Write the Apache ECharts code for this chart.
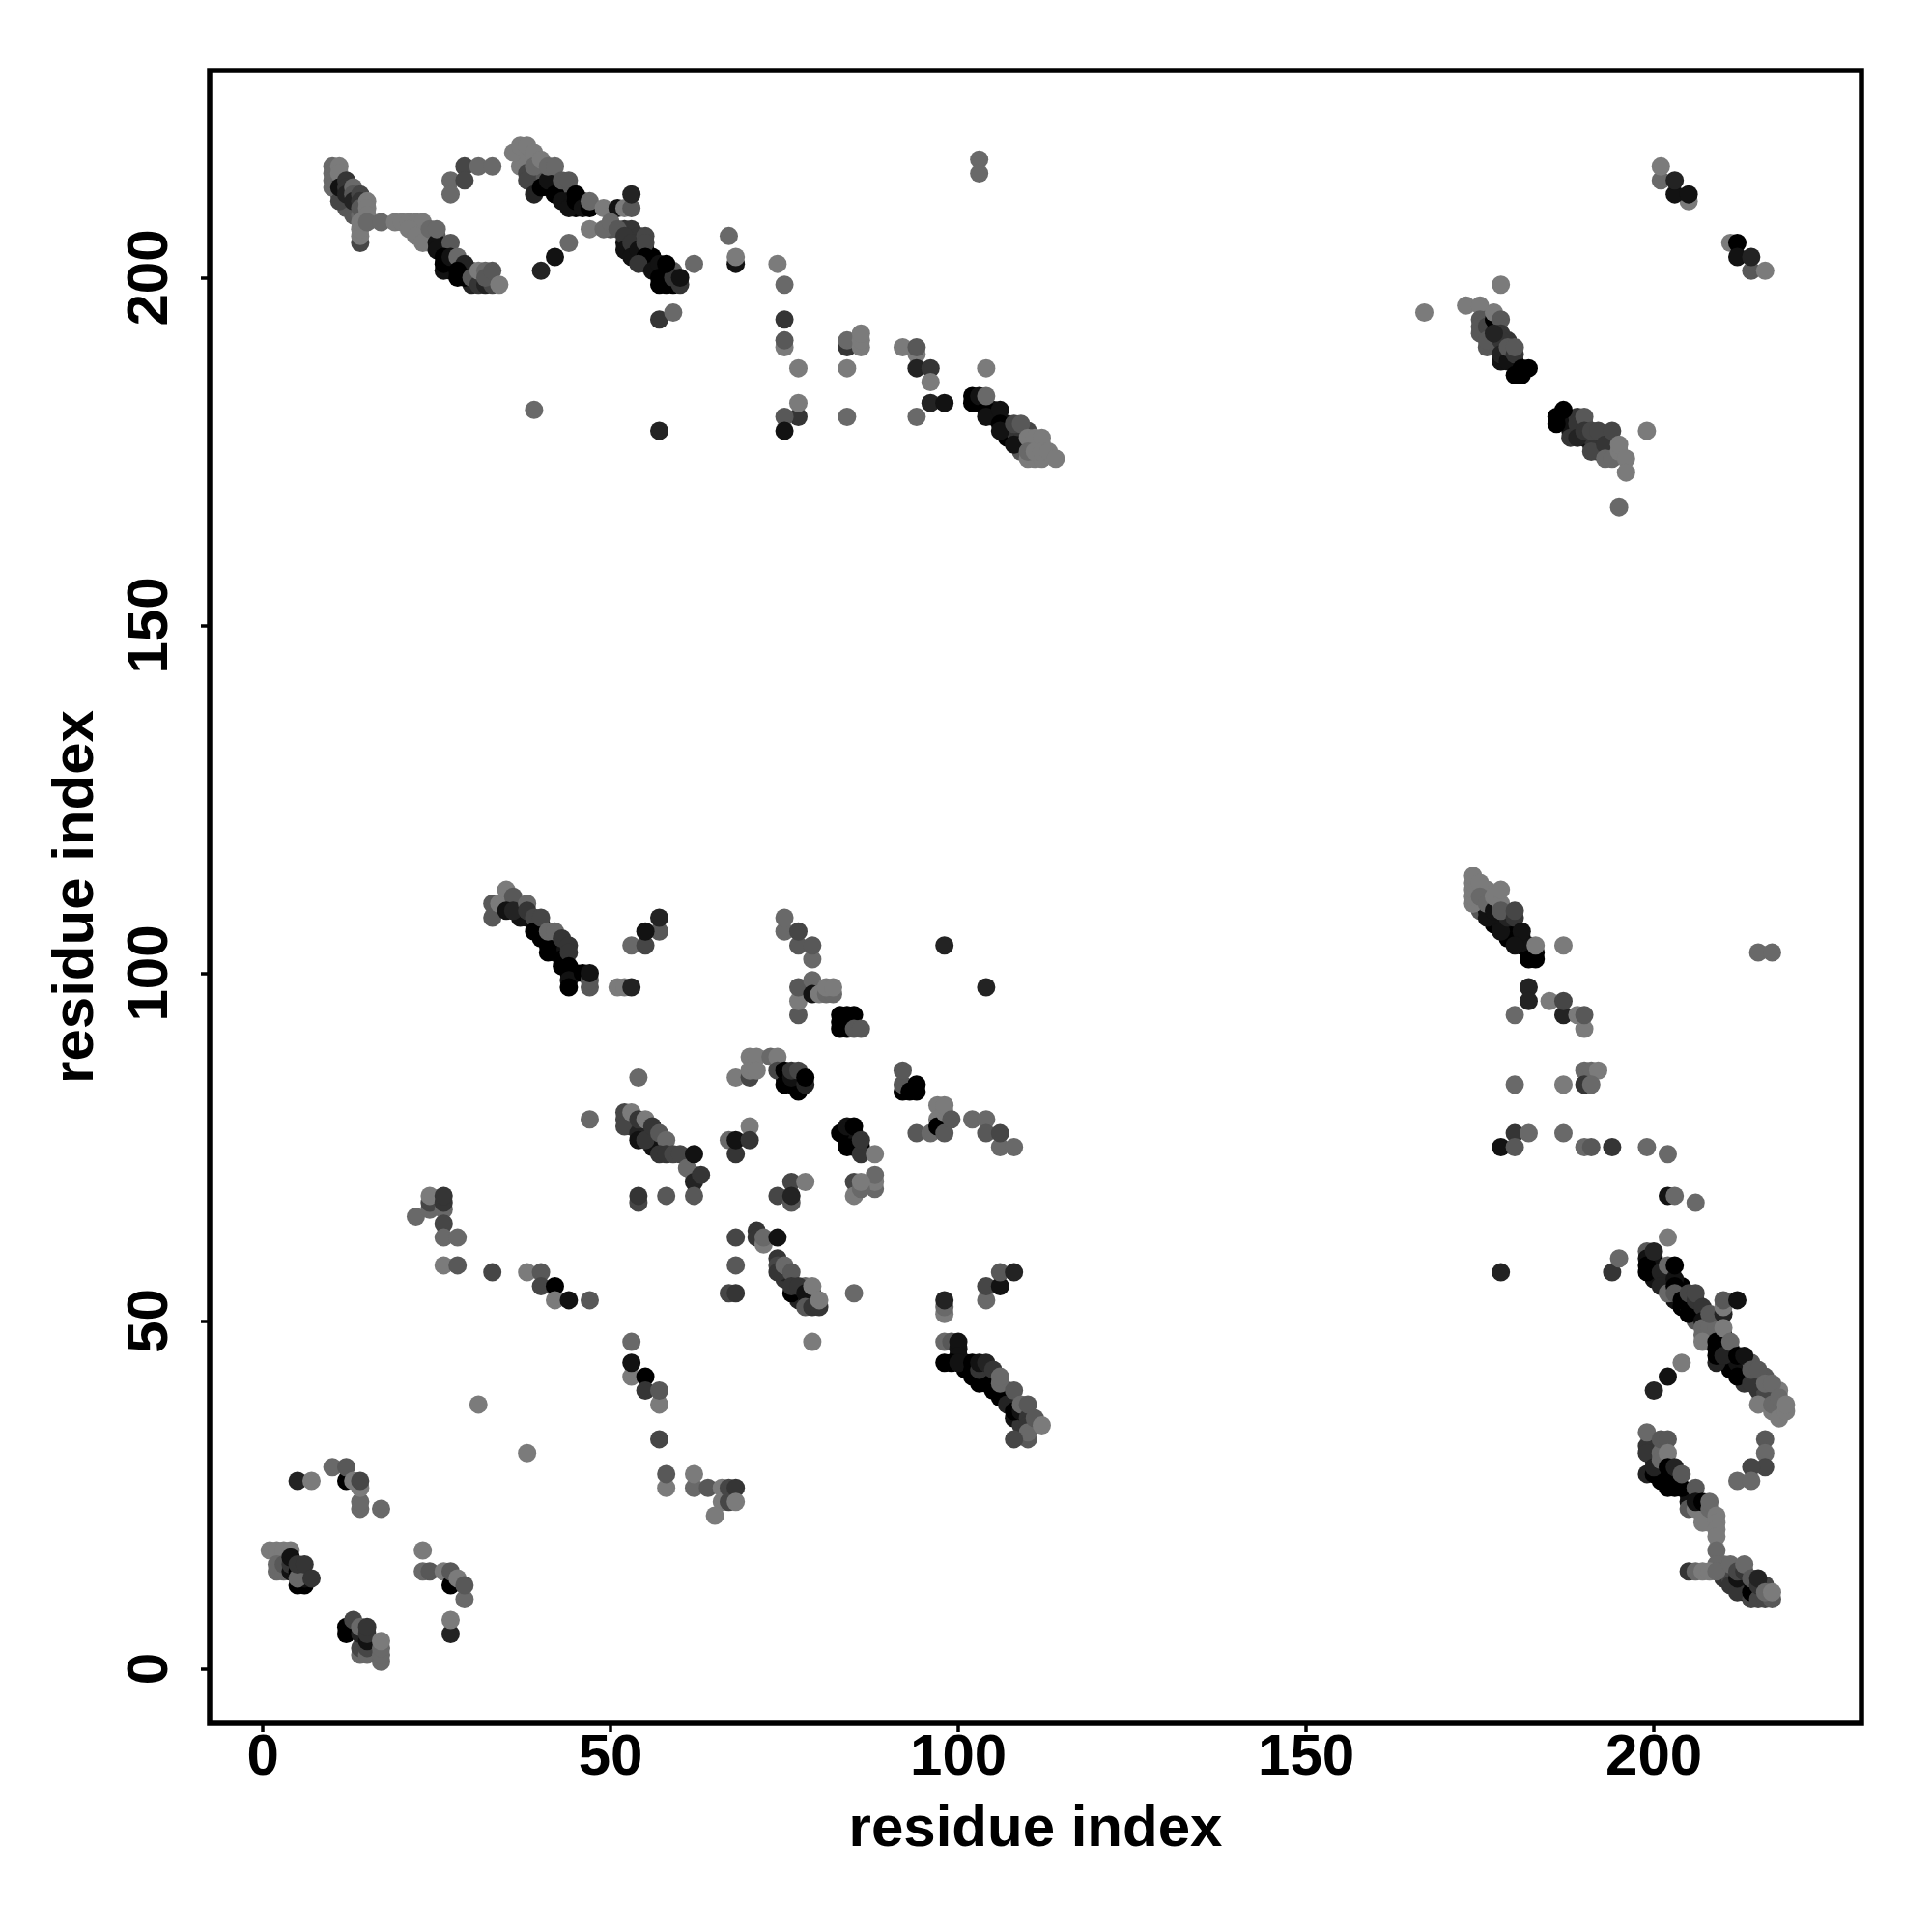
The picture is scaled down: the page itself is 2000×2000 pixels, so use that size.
<!DOCTYPE html>
<html><head><meta charset="utf-8">
<script src="https://cdn.jsdelivr.net/npm/echarts@6/dist/echarts.min.js"></script>
<style>html,body{margin:0;padding:0;background:#fff}#c{width:2000px;height:2000px}</style>
</head><body><div id="c"></div>
<script>
// each contact: [residue x, residue y, darkness level 0 (black) .. 7 (mid grey)]
const bandCores=[[11,214,5],[11,212,3],[12,210,5],[13,209,5],[14,209,6],[24,205,5],[25,206,5],[26,204,2],[27,202,0],[27,201,0],[26,201,1],[29,201,1],[30,201,3],[30,199,2],[31,200,5],
[37,216,7],[38,217,7],[39,217,7],[40,216,6],[40,215,5],[41,215,5],[41,213,1],[42,214,1],[42,213,0],[43,212,1],[43,213,3],[44,212,1],[44,213,5],[44,211,1],[45,210,0],[46,211,1],[42,212,0],
[50,207,5],[52,207,3],[53,207,3],[54,206,3],[54,205,3],[55,204,1],[56,203,0],[52,205,1],[56,202,0],[57,201,0],[58,201,1],[55,202,3],[58,200,0],[59,201,5],
[176,192,3],[177,193,3],[177,191,2],[178,190,2],[179,189,1],[176,190,5],[179,191,3],[178,188,1],[180,188,1],
[188,178,1],[188,179,1],[189,178,2],[190,177,1],[191,176,1],[192,176,3],[192,175,2],[193,175,3],[191,177,3],[192,177,3],[190,179,5],[189,180,3],[188,177,3],[194,176,1],[193,177,3],[194,175,5],
[37,109,3],[38,108,1],[40,107,1],[40,105,0],[42,105,0],[42,104,0],[42,103,1],[43,103,1],[43,101,0],[45,100,0],
[175,112,7],[175,110,7],[176,112,7],[176,111,7],[175,109,5],[176,109,1],[177,108,0],[177,107,0],[178,108,0],[178,107,1],[179,107,1],[179,106,0],[179,105,0],[180,106,0],[180,105,0],[181,105,0],[181,104,0],[182,103,0],[182,104,1],
[103,182,0],[105,180,0],[105,181,1],[107,179,1],[107,178,0],[107,177,0],[109,177,1],[108,178,3],[109,176,2],[109,175,5],[110,176,5],[111,176,6],[112,176,7],[110,178,4],
[101,44,0],[101,43,0],[102,42,0],[103,42,0],[104,42,1],[104,43,1],[105,42,1],[105,40,0],[107,39,0],[107,40,1],[108,38,1],[108,36,1],[109,36,1],[109,35,3],
[200,59,0],[200,58,1],[200,57,0],[200,56,1],[201,56,1],[202,56,0],[202,57,1],[202,55,2],[203,53,1],[204,52,0],[204,54,1],[205,53,0],[204,55,0],[205,52,1],[206,51,1],[206,52,1],[207,51,3],[206,50,5],[208,50,3],[207,48,6],[209,48,6],[208,47,7],[210,48,1],[210,47,1],[210,46,0],[211,46,0],[211,45,0],[211,44,0],[211,43,0],[212,44,1],[213,43,1],[213,44,1],[213,41,3],[214,42,3],[214,44,5],[215,42,3],[215,41,3],[215,40,3],[216,40,4],[216,42,5],[217,40,6],[217,39,6],[218,38,6],[218,37,7],[218,40,7],[217,37,7],
[200,32,3],[200,30,1],[200,31,2],[201,29,1],[201,28,1],[201,27,0],[202,27,0],[203,27,0],[203,28,1],[202,28,0],[201,32,5],[205,25,1],[205,24,1],[205,23,5],[207,23,7],[207,22,7],[208,22,7],[208,21,7],[210,15,6],[210,14,5],[210,13,3],[211,13,4],[211,14,4],[212,12,2],[213,12,1],[213,13,3],[213,11,1],[214,12,1],[215,11,3],[216,12,4],
[53,79,3],[53,78,3],[55,77,1],[55,78,3],[56,76,2],[56,77,3],[57,75,3],[56,75,1],[75,85,0],[76,84,0],[77,84,0],[77,85,1],[84,76,0],[84,77,0],[85,76,0],[85,77,1],[85,75,0],[75,56,3],[75,57,2],[77,54,2],[77,53,2],[78,53,2],[79,53,3],[79,54,3],[78,55,6]];
const topLeftA=[[10,216,6],[10,215,6],[10,214,6],[10,213,6],[11,216,7],[11,215,7],[11,211,4],[11,213,1],[12,214,3],[12,213,3],[12,212,2],[13,213,6],[13,212,5],[13,211,2],[14,212,4],[14,211,3],[14,210,5],[15,211,7],[15,210,7],[15,209,7],[14,205,4],[14,206,7],[14,207,7],[14,208,7],[15,208,6],[17,208,6],[19,208,7],[20,208,7],[21,208,7],[22,208,7],[23,208,7],[21,207,7],[22,206,7],[23,205,7],[24,207,6],[25,205,1],[25,204,1],[25,207,6],[27,205,5],[26,203,0],[26,202,0],[27,203,1],[28,203,6],[29,202,2],[28,201,0],[28,200,0],[29,200,0],[30,200,5],[31,199,3],[32,199,2],[33,199,4],[31,201,7],[32,201,6],[32,200,5],[33,201,5],[34,199,7],[29,216,4],[31,216,6],[33,216,6],[27,214,6],[29,214,4],[27,212,6]];
const topLeftB=[[36,218,7],[37,219,7],[38,219,7],[39,218,7],[38,215,4],[38,214,4],[39,212,2],[40,213,0],[39,216,6],[40,217,7],[41,214,1],[41,216,6],[42,216,6],[42,212,0],[43,211,1],[43,214,5],[44,214,5],[44,210,1],[45,212,0],[45,211,0],[46,210,1],[47,210,0],[47,211,6],[49,210,7],[51,210,1],[52,210,7],[53,210,5],[53,212,2],[47,207,7],[49,207,6],[50,208,6],[51,207,5],[52,206,3],[52,204,1],[53,205,3],[53,203,1],[54,204,1],[55,206,4],[55,205,4],[55,203,0],[54,202,3],[56,201,1],[57,202,1],[57,200,0],[57,199,0],[58,199,0],[59,199,0],[60,199,3],[59,200,3],[58,202,0],[60,200,1],[62,202,6],[40,201,2],[42,203,1],[44,205,6],[57,194,3],[59,195,6],[39,181,6],[57,178,2]];
const topMiddle=[[67,206,6],[68,202,1],[68,203,7],[74,202,7],[75,199,6],[75,194,3],[75,190,7],[75,191,5],[77,187,7],[77,180,3],[77,182,7],[75,180,5],[75,178,1],[84,190,3],[84,191,6],[86,190,7],[86,191,7],[86,192,7],[84,187,7],[84,180,6],[92,190,7],[94,189,7],[94,190,5],[94,187,2],[96,187,3],[96,185,7],[96,182,2],[98,182,1],[94,180,6],[103,217,6],[103,215,6],[104,187,7],[102,183,0],[102,182,0],[103,183,1],[104,181,0],[104,180,1],[104,183,6],[106,181,1],[106,179,0],[106,178,1],[108,176,1],[108,179,4],[109,179,5],[110,177,7],[111,177,7],[112,177,7],[110,174,7],[111,174,7],[112,174,7],[110,175,6],[111,175,7],[112,175,7],[113,175,7],[114,174,7]];
const topRight=[[167,195,7],[173,196,7],[175,196,7],[175,194,5],[175,193,5],[175,192,5],[176,194,5],[176,193,4],[176,191,5],[177,194,0],[177,195,7],[178,199,7],[178,194,5],[178,192,3],[178,191,3],[177,192,2],[178,189,2],[179,188,1],[179,190,5],[180,189,3],[180,190,5],[180,186,0],[181,186,0],[181,187,0],[182,187,0],[186,180,0],[186,179,0],[187,181,0],[189,179,3],[190,180,5],[189,177,2],[190,178,3],[191,178,4],[192,178,4],[191,175,4],[193,176,3],[193,174,6],[194,174,6],[194,178,4],[195,175,7],[195,176,7],[196,174,7],[196,172,7],[195,167,6],[199,178,7],[201,214,6],[201,216,7],[205,211,7],[203,212,1],[203,214,2],[205,212,1],[211,205,7],[212,205,0],[212,203,1],[214,201,5],[214,203,2],[216,201,7]];
const midLeft=[[33,110,5],[33,108,5],[34,110,7],[35,112,7],[36,111,5],[35,109,1],[37,108,1],[36,109,2],[38,110,6],[38,109,3],[39,108,4],[39,106,0],[40,108,4],[41,104,0],[41,103,0],[41,106,6],[42,106,6],[43,102,0],[43,105,3],[44,104,3],[44,103,3],[44,101,0],[44,100,0],[44,99,1],[44,98,0],[46,100,0],[47,98,5],[47,99,5],[47,100,1],[51,98,7],[52,98,7],[53,98,2],[57,106,5],[53,104,6],[55,104,4],[57,108,2],[55,106,1],[75,106,6],[75,108,6],[77,104,5],[77,106,4],[79,102,6],[79,104,5],[77,94,5],[77,96,7],[77,98,5],[79,99,6],[79,97,1],[80,97,7],[81,97,6],[82,97,6],[81,98,7],[82,98,7],[83,92,0],[83,93,0],[83,94,0],[84,94,0],[85,94,0],[84,92,0],[85,92,5],[86,92,5]];
const midCentre=[[68,85,7],[70,85,4],[70,88,7],[71,88,7],[73,88,6],[74,88,7],[70,86,7],[71,86,7],[74,86,4],[75,84,0],[77,83,0],[75,86,0],[76,85,1],[76,86,3],[77,86,4],[78,84,2],[78,85,0],[54,85,6],[47,79,6],[52,80,4],[52,79,4],[52,78,4],[53,80,7],[54,77,2],[54,76,1],[54,79,3],[55,76,3],[55,79,7],[56,78,3],[57,77,5],[58,76,6],[57,74,3],[58,74,3],[59,74,4],[60,74,4],[62,71,5],[61,72,6],[62,70,2],[62,74,1],[63,71,3],[54,67,4],[54,68,3],[58,68,5],[62,68,5],[67,76,6],[68,74,3],[70,78,7],[68,76,1],[70,76,3],[74,68,4],[76,67,5],[76,70,4],[76,68,2],[78,70,7],[83,77,0],[84,75,0],[84,78,1],[85,78,0],[86,75,0],[86,74,3],[86,76,3],[85,70,4],[85,68,7],[88,69,6],[88,70,7],[88,71,6],[86,69,6],[86,70,7],[88,74,7],[98,104,2],[104,98,2],[92,83,0],[92,84,5],[92,86,5],[93,83,0],[94,83,0],[94,84,0],[94,77,5],[96,77,6],[97,81,7],[97,79,7],[97,78,0],[98,77,5],[98,80,7],[98,81,7],[99,79,5],[102,79,6],[104,79,6],[104,77,5],[106,75,6],[106,77,4],[108,75,6]];
const lowerLeft=[[22,65,6],[24,66,6],[24,67,4],[24,68,7],[26,66,6],[26,67,3],[26,68,3],[26,64,4],[26,62,6],[28,62,6],[26,58,7],[28,58,5],[33,57,4],[38,57,7],[40,57,5],[40,55,4],[42,55,0],[42,53,7],[44,53,1],[47,53,5],[53,47,6],[53,42,7],[53,44,1],[55,42,0],[55,40,3],[57,38,7],[57,40,5],[57,33,4],[31,38,7],[38,31,7],[58,26,7],[58,28,5],[62,26,6],[62,28,7],[64,26,5],[66,24,7],[66,26,7],[67,24,4],[67,26,4],[68,26,3],[68,24,7],[65,22,7],[68,62,4],[68,58,5],[67,54,4],[68,54,3],[71,63,3],[71,62,3],[72,61,7],[72,62,6],[74,62,1],[74,59,3],[74,58,4],[74,57,3],[75,58,6],[76,57,5],[76,54,0],[76,55,3],[77,55,3],[78,54,1],[78,52,5],[79,52,3],[80,52,3],[79,55,7],[80,53,7],[85,54,6],[79,47,7]];
const lowerMiddle=[[98,51,7],[98,52,6],[98,53,2],[98,47,6],[99,47,5],[100,46,1],[100,47,1],[100,45,1],[98,44,0],[99,44,0],[100,44,1],[102,43,0],[102,44,0],[103,41,0],[104,41,0],[105,41,0],[103,43,3],[103,44,1],[104,44,2],[105,43,3],[106,39,0],[106,41,6],[106,42,6],[107,38,2],[108,37,0],[108,40,5],[109,37,1],[109,38,6],[110,36,3],[110,35,3],[110,33,5],[110,34,6],[108,33,4],[110,38,5],[111,36,5],[112,35,7],[104,53,6],[104,55,4],[106,55,1],[106,57,5],[108,57,2]];
const midRight=[[174,110,7],[174,111,7],[174,112,7],[174,113,7],[174,114,7],[175,113,7],[175,111,6],[176,108,1],[176,110,6],[177,109,1],[177,111,7],[178,106,1],[178,110,7],[178,112,7],[179,108,2],[178,109,5],[180,108,3],[180,109,4],[181,106,1],[180,104,1],[182,102,0],[183,102,0],[183,103,0],[183,104,7],[187,104,7],[182,98,2],[182,96,2],[180,94,6],[185,96,7],[187,94,2],[187,96,4],[189,94,7],[190,92,7],[190,94,5],[180,84,6],[187,84,7],[190,86,6],[191,86,6],[192,86,7],[190,84,3],[191,84,6],[180,77,3],[182,77,6],[187,77,6],[178,75,1],[180,75,5],[190,75,6],[191,75,5],[194,75,3],[199,75,6],[202,74,6],[202,68,1],[203,68,6],[206,67,6],[215,103,6],[217,103,6],[178,57,2]];
const lowerRightA=[[202,62,7],[194,57,3],[195,59,6],[199,60,5],[199,59,1],[199,58,0],[199,57,0],[200,60,2],[201,57,2],[201,55,2],[202,54,6],[202,58,6],[203,56,1],[203,58,0],[203,55,0],[203,54,5],[204,53,0],[205,51,0],[205,54,4],[206,53,3],[206,54,4],[207,52,3],[207,50,1],[207,49,6],[208,49,6],[209,49,6],[207,47,7],[208,51,5],[210,51,2],[210,52,7],[210,53,5],[212,53,1],[209,44,2],[209,45,0],[209,46,0],[209,47,0],[210,45,2],[210,49,7],[211,47,6],[212,42,0],[212,45,0],[213,45,1],[214,41,3],[214,43,5],[215,43,5],[216,39,4],[215,38,7],[216,41,6],[217,41,6],[217,38,6],[218,36,7],[218,39,6],[219,37,7],[219,38,7],[204,44,7],[202,42,1],[200,40,2]];
const lowerRightB=[[216,33,5],[216,31,6],[216,29,4],[214,29,4],[212,27,6],[214,27,6],[199,32,3],[199,31,3],[199,34,6],[199,28,2],[200,28,0],[200,29,2],[201,31,6],[201,30,6],[201,33,5],[202,33,5],[202,31,7],[202,29,0],[203,29,2],[202,26,0],[203,26,0],[204,26,0],[204,28,5],[206,26,5],[206,23,7],[206,24,1],[207,24,0],[207,21,7],[208,23,6],[208,24,6],[209,22,7],[209,21,7],[209,20,7],[209,19,7],[209,17,6],[209,15,6],[205,14,3],[206,14,6],[207,14,7],[208,14,7],[209,14,6],[211,12,3],[211,15,6],[212,11,3],[212,13,1],[212,14,4],[213,14,3],[213,15,6],[214,10,4],[214,11,0],[214,13,5],[215,10,4],[215,12,3],[215,13,2],[216,10,4],[217,10,5],[216,11,6],[217,11,7]];
const bottomLeft=[[5,27,2],[7,27,7],[10,29,6],[12,27,0],[12,29,5],[13,27,7],[14,23,6],[14,24,6],[14,26,7],[14,27,4],[17,23,6],[1,17,7],[2,17,7],[3,17,7],[4,17,7],[2,14,6],[2,15,6],[3,14,6],[3,15,5],[4,14,1],[4,15,3],[4,16,1],[5,12,0],[6,12,0],[5,14,0],[6,13,1],[5,13,6],[5,15,3],[6,15,3],[7,13,3],[12,5,0],[12,6,0],[13,7,4],[14,2,6],[14,3,4],[14,5,2],[14,6,6],[15,2,6],[15,3,4],[15,4,1],[15,5,3],[15,6,3],[17,1,6],[17,2,6],[17,3,6],[17,4,7],[23,17,7],[23,14,6],[24,14,5],[26,14,7],[27,12,0],[27,14,5],[28,13,7],[29,10,6],[29,12,5],[27,5,2],[27,7,7]];
const xyTicks=[0,50,100,150,200];
const axisTitle="residue index";
const xRange=[-7.65,229.85];
const yRange=[-7.85,229.8];

const contacts=[].concat(bandCores,topLeftA,topLeftB,topMiddle,topRight,midLeft,midCentre,lowerLeft,lowerMiddle,midRight,lowerRightA,lowerRightB,bottomLeft);
const font='"Liberation Sans", Arial, sans-serif';
function axis(range,extra){
  return Object.assign({type:'value',min:range[0],max:range[1],
    axisLine:{show:false,onZero:false},splitLine:{show:false},
    axisTick:{show:true,inside:false,length:9,lineStyle:{color:'#000',width:3.5},customValues:xyTicks},
    nameLocation:'middle',nameMoveOverlap:false,
    nameTextStyle:{fontFamily:font,fontWeight:'bold',fontSize:60,color:'#000'}},extra);
}
const chart=echarts.init(document.getElementById('c'),null,{renderer:'canvas'});
chart.setOption({
  animation:false,backgroundColor:'#fff',
  grid:{left:217,top:73,width:1710,height:1711,show:true,borderColor:'#000',borderWidth:5.5,backgroundColor:'transparent'},
  xAxis:axis(xRange,{name:axisTitle,nameGap:80,
    axisLabel:{show:true,customValues:xyTicks,margin:6,fontFamily:font,fontWeight:'bold',fontSize:60,color:'#000'}}),
  yAxis:axis(yRange,{name:axisTitle,nameGap:108,nameRotate:90,
    axisLabel:{show:true,customValues:xyTicks,rotate:90,margin:31,fontFamily:font,fontWeight:'bold',fontSize:60,color:'#000'}}),
  series:[{type:'scatter',symbol:'circle',symbolSize:19,silent:true,
    data:contacts.map(c=>[c[0],c[1],c[2]]),
    itemStyle:{opacity:1,color:p=>{const v=p.value[2]*17.5;return 'rgb('+v+','+v+','+v+')';}}}]
});
</script></body></html>
